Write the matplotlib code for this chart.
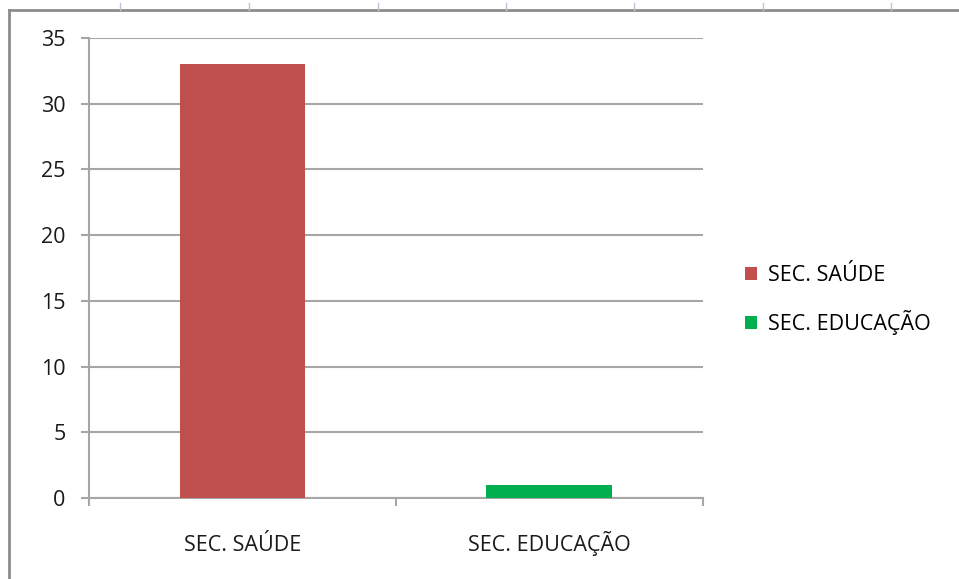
import matplotlib.pyplot as plt
from matplotlib.lines import Line2D
from matplotlib.patches import Patch

categories = ['SEC. SAÚDE', 'SEC. EDUCAÇÃO']
values = [33, 1]
colors = ['#C0504D', '#00B050']
y_ticks = [0, 5, 10, 15, 20, 25, 30, 35]

plt.rcParams['font.family'] = ['Open Sans', 'DejaVu Sans']
fs = 15.5

fig = plt.figure(figsize=(9.59, 5.79), dpi=100)
ax = fig.add_axes([0.0928, 0.1399, 0.640, 0.7945])

x = range(len(categories))
ax.bar(x, values, width=0.41, color=colors, zorder=3)

ax.set_xlim(-0.5, len(categories) - 0.5)
ax.set_ylim(0, 35)
ax.set_yticks(y_ticks)
ax.yaxis.grid(True, color='#A6A6A6', linewidth=1.5, zorder=0)
ax.set_axisbelow(True)

for s in ['top', 'right']:
    ax.spines[s].set_visible(False)
for s in ['left', 'bottom']:
    ax.spines[s].set_color('#A6A6A6')
    ax.spines[s].set_linewidth(1.5)

ax.tick_params(axis='y', length=6, width=1.5, color='#A6A6A6', pad=11,
               labelsize=fs, labelcolor='#1a1a1a')
ax.set_xticks([-0.5, 0.5, 1.5])
ax.set_xticklabels([])
ax.tick_params(axis='x', length=6, width=1.5, color='#A6A6A6')
ax.set_xticks(list(x), minor=True)
ax.set_xticklabels(categories, minor=True)
ax.tick_params(axis='x', which='minor', length=0, pad=38, labelsize=fs,
               labelcolor='#1a1a1a')
for lbl in ax.get_xticklabels(minor=True):
    lbl.set_va('baseline')

handles = [Patch(facecolor=c, edgecolor='none') for c in colors]
fig.legend(handles, categories, loc='center left', bbox_to_anchor=(0.7766, 0.482),
           frameon=False, fontsize=fs, handlelength=0.55, handleheight=0.55,
           handletextpad=0.55, labelspacing=1.1, borderpad=0, borderaxespad=0)

# chart frame and spreadsheet marks behind it
fig.add_artist(Line2D([0.0094, 0.0094], [0, 0.983], color='#8c8c8c', linewidth=2,
                      transform=fig.transFigure))
fig.add_artist(Line2D([0.0094, 1], [0.983, 0.983], color='#8c8c8c', linewidth=2,
                      transform=fig.transFigure))
for px in [120, 249, 378, 506, 634, 763, 891]:
    fig.add_artist(Line2D([px / 959, px / 959], [0.983, 0.995], color='#b8c4d8',
                          linewidth=1, transform=fig.transFigure))

fig.savefig('out.png', dpi=100)
